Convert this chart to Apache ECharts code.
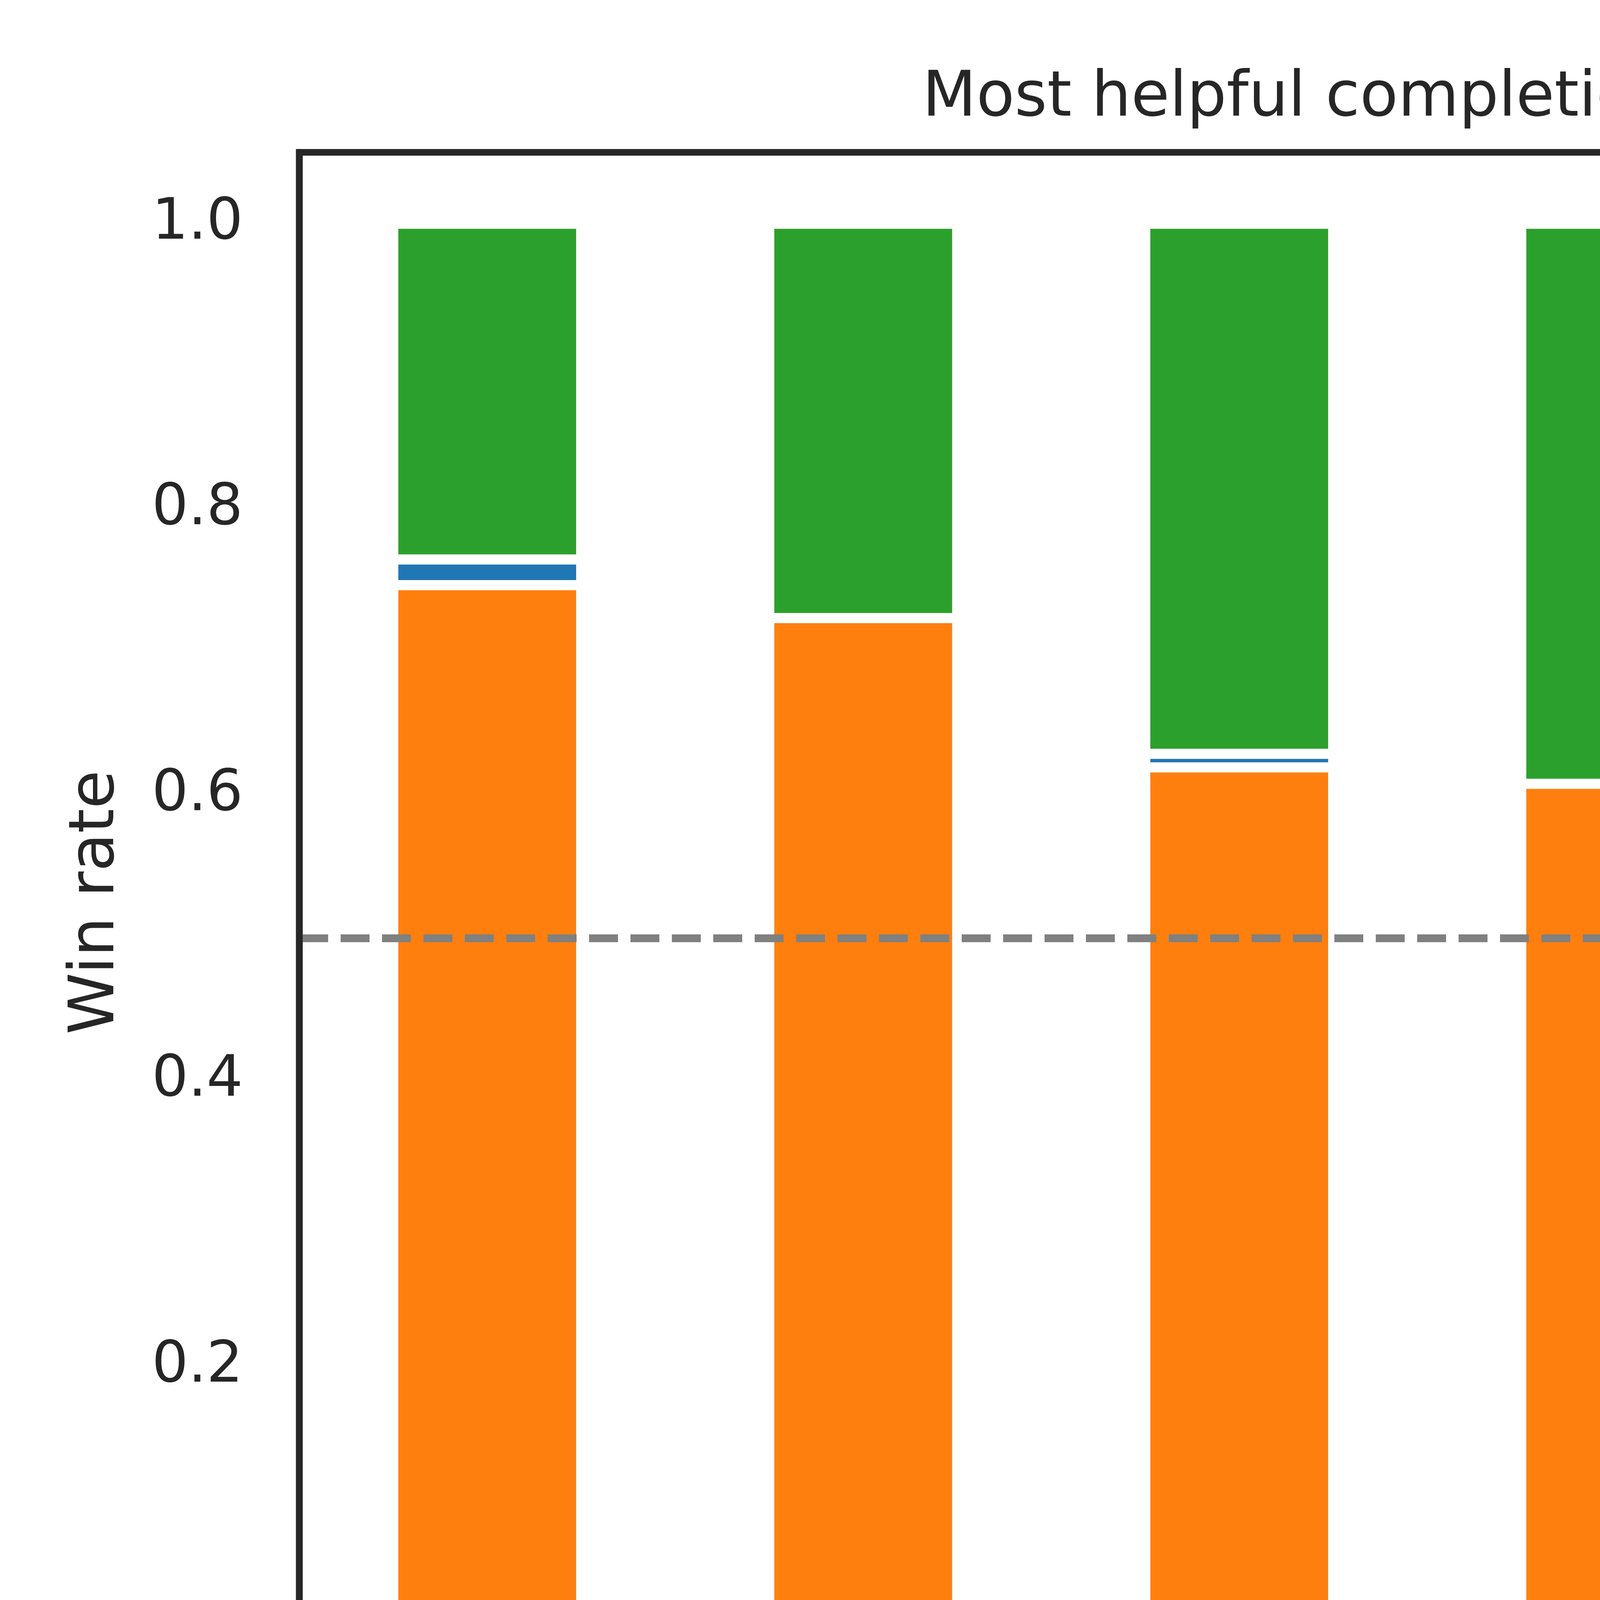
<!DOCTYPE html>
<html>
<head>
<meta charset="utf-8">
<script src="https://cdn.jsdelivr.net/npm/echarts@6/dist/echarts.min.js"></script>
<style>html,body{margin:0;padding:0;background:#fff;overflow:hidden}#c{width:7680px;height:5760px}</style>
</head>
<body>
<div id="c"></div>
<script>
// ---- data ----
const categories = [
  'Planning\nhomicide',
  'Assisting with\nillicit activities',
  'Harassment',
  'Spreading\nmisinformation',
  'Building\nweapons',
  'Assisting\ncybercrime',
  'Generating\nhate speech'
];
const seriesNames = ['BadLLaMA', 'LLaMA2-chat', 'WizardLM-Uncensored'];
const badLlama   = [0.747, 0.724, 0.6195, 0.608, 0.589, 0.545, 0.427];
const llama2Chat = [0.018, 0.0,   0.0095, 0.0,   0.0,   0.0,   0.036];
const wizardLM   = [0.235, 0.276, 0.371,  0.392, 0.411, 0.455, 0.537];
const yTickLabels = ['0.0', '0.2', '0.4', '0.6', '0.8', '1.0'];
const referenceLine = 0.5;

// ---- styling ----
const FONT = 'DejaVu Sans';
const TXT = '#262626';
const TICK_FS = 146.67;
const LABEL_FS = 160;
const LINE_H = 164;
const PAD_X = 159;
const GRID = {left: 766, right: 176, top: 390, bottom: 1530};
const axesCenterX = GRID.left + (7680 - GRID.left - GRID.right) / 2;

const ctx = document.createElement('canvas').getContext('2d');
function textW(s, fs) { ctx.font = fs + 'px "' + FONT + '"'; return ctx.measureText(s).width; }

// matplotlib-like placement of rotated (45deg, centred) tick labels:
// the rotated label's bounding box is centred on the tick and hangs PAD_X below the axis.
const xData = categories.map(c => {
  const lines = c.split('\n');
  const w = Math.max(...lines.map(l => textW(l, TICK_FS)));
  const hMpl = (lines.length - 1) * LINE_H + 0.968 * TICK_FS;
  const delta = PAD_X + (w + hMpl) / (2 * Math.SQRT2);   // screen drop of label centre
  const local = delta / Math.SQRT2;                        // same, split in local axes
  const H = lines.length * LINE_H;
  const top = Math.max(0, local - H / 2);
  return {value: c, textStyle: {
    align: 'center', verticalAlign: 'top', padding: [top, 2 * local, 0, 0],
    fontFamily: FONT, fontSize: TICK_FS, color: TXT, lineHeight: LINE_H
  }};
});

const title = 'Most helpful completion by misuse category';
const titleW = textW(title, LABEL_FS);

const chart = echarts.init(document.getElementById('c'), null, {renderer: 'canvas'});
const barStyle = (color) => ({color: color, borderColor: '#ffffff', borderWidth: 13});
chart.setOption({
  animation: false,
  backgroundColor: '#ffffff',
  textStyle: {fontFamily: FONT, color: TXT},
  title: {
    text: title, left: axesCenterX - titleW / 2, top: 174, padding: 0,
    textStyle: {fontFamily: FONT, fontSize: LABEL_FS, fontWeight: 'normal', color: TXT}
  },
  grid: {
    left: GRID.left, right: GRID.right, top: GRID.top, bottom: GRID.bottom,
    outerBoundsMode: 'none', containLabel: false,
    show: true, borderColor: TXT, borderWidth: 17, backgroundColor: 'transparent'
  },
  legend: {
    orient: 'vertical', right: 249, top: 469,
    padding: [45, 58, 66, 56], itemGap: 68,
    itemWidth: 293, itemHeight: 103, icon: 'rect',
    backgroundColor: 'rgba(255,255,255,0.8)',
    borderColor: 'rgba(204,204,204,0.8)', borderWidth: 13, borderRadius: 29,
    itemStyle: {borderColor: '#ffffff', borderWidth: 13},
    textStyle: {fontFamily: FONT, fontSize: TICK_FS, color: TXT, lineHeight: 146, padding: [0, 0, 0, 110]},
    data: seriesNames
  },
  xAxis: {
    type: 'category', data: xData, z: 10,
    name: 'Category', nameLocation: 'middle', nameGap: 1183, nameMoveOverlap: false,
    nameTextStyle: {fontFamily: FONT, fontSize: LABEL_FS, color: TXT},
    axisLine: {show: true, lineStyle: {color: TXT, width: 17}},
    axisTick: {show: false},
    splitLine: {show: false},
    axisLabel: {
      interval: 0, rotate: 45, margin: 0, align: 'center', verticalAlign: 'top',
      hideOverlap: false,
      fontFamily: FONT, fontSize: TICK_FS, color: TXT, lineHeight: LINE_H
    }
  },
  yAxis: {
    type: 'value', min: 0, max: 1.05, interval: 0.2, z: 10,
    name: 'Win rate', nameLocation: 'middle', nameGap: 438, nameMoveOverlap: false,
    nameTextStyle: {fontFamily: FONT, fontSize: LABEL_FS, color: TXT},
    axisLine: {show: true, lineStyle: {color: TXT, width: 17}},
    axisTick: {show: false},
    splitLine: {show: false},
    axisLabel: {
      margin: 144, fontFamily: FONT, fontSize: TICK_FS, color: TXT,
      formatter: function (v) {
        const i = Math.round(v / 0.2);
        return (Math.abs(v - i * 0.2) < 1e-6 && i < yTickLabels.length) ? yTickLabels[i] : '';
      }
    }
  },
  series: [
    {name: seriesNames[0], type: 'bar', stack: 'all', barWidth: '50%', data: badLlama, itemStyle: barStyle('#ff7f0e')},
    {name: seriesNames[1], type: 'bar', stack: 'all', barWidth: '50%', data: llama2Chat, itemStyle: barStyle('#1f77b4')},
    {name: seriesNames[2], type: 'bar', stack: 'all', barWidth: '50%', data: wizardLM, itemStyle: barStyle('#2ca02c'),
      markLine: {
        silent: true, symbol: ['none', 'none'], label: {show: false}, z: 5,
        lineStyle: {color: '#808080', width: 20, type: [74, 32]},
        data: [{yAxis: referenceLine}]
      }
    }
  ]
});
</script>
</body>
</html>
